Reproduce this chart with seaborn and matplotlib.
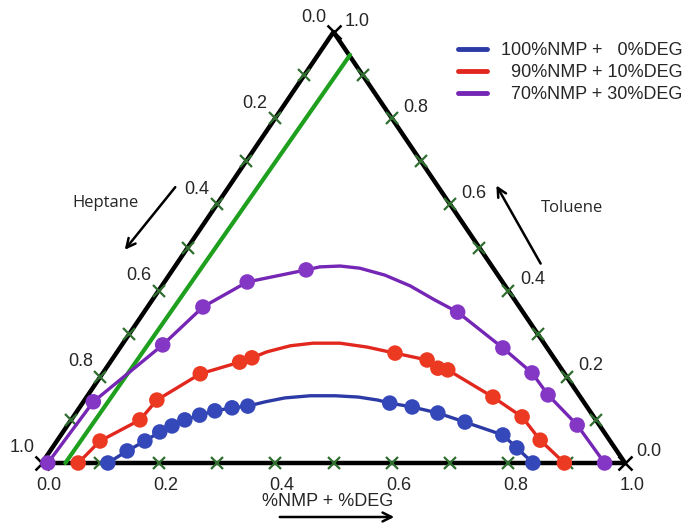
import pandas as pd
import seaborn as sns
import matplotlib.pyplot as plt

# Ternary data:
# solv = fraction of (NMP + DEG), tol = fraction of toluene, heptane = 1 - solv - tol
blue_solv = [0.113, 0.132, 0.151, 0.166, 0.180, 0.195, 0.215, 0.236, 0.262, 0.287,
             0.527, 0.570, 0.621, 0.678, 0.758, 0.797, 0.842]
blue_tol = [0.000, 0.028, 0.051, 0.072, 0.086, 0.100, 0.111, 0.121, 0.128, 0.132,
            0.139, 0.130, 0.116, 0.095, 0.065, 0.035, 0.000]
red_solv = [0.062, 0.074, 0.118, 0.124, 0.168, 0.222, 0.238,
            0.478, 0.541, 0.569, 0.588, 0.697, 0.770, 0.828, 0.896]
red_tol = [0.000, 0.051, 0.100, 0.146, 0.207, 0.234, 0.244,
           0.255, 0.239, 0.220, 0.216, 0.153, 0.107, 0.053, 0.000]
purple_solv = [0.010, 0.017, 0.070, 0.095, 0.142, 0.229,
               0.538, 0.657, 0.736, 0.789, 0.874, 0.965]
purple_tol = [0.000, 0.142, 0.274, 0.362, 0.420, 0.448,
              0.350, 0.267, 0.209, 0.158, 0.088, 0.000]

# fitted binodal curves across the top, where there are no measured points
blue_fit_solv = [0.312, 0.341, 0.382, 0.425, 0.466, 0.503]
blue_fit_tol = [0.142, 0.151, 0.156, 0.156, 0.153, 0.146]
red_fit_solv = [0.257, 0.290, 0.326, 0.372, 0.423, 0.458]
red_fit_tol = [0.258, 0.272, 0.278, 0.278, 0.269, 0.260]
purple_fit_solv = [0.249, 0.283, 0.319, 0.370, 0.426, 0.485]
purple_fit_tol = [0.455, 0.457, 0.452, 0.436, 0.411, 0.378]

# green line
green_solv = [0.040, 0.055]
green_tol = [0.000, 0.947]

labels = ['100%NMP +   0%DEG', '  90%NMP + 10%DEG', '  70%NMP + 30%DEG']
tick_vals = [0.0, 0.2, 0.4, 0.6, 0.8, 1.0]
minor_vals = [0.1, 0.2, 0.3, 0.4, 0.5, 0.6, 0.7, 0.8, 0.9]


def to_xy(solv, tol):
    # ternary -> plot coordinates (bottom-right = pure solvent, top = pure toluene)
    solv = pd.Series(solv, dtype=float)
    tol = pd.Series(tol, dtype=float)
    return pd.DataFrame({'x': solv + tol / 2, 'y': tol})


sns.set_style('white')
plt.rcParams['font.family'] = ['Liberation Sans', 'DejaVu Sans']

fig = plt.figure(figsize=(6.9, 5.24), dpi=100)
ax = fig.add_axes([42 / 690, 61 / 524, 583 / 690, 431 / 524])
ax.set_xlim(0, 1)
ax.set_ylim(0, 1)
ax.axis('off')

# triangle frame
frame = to_xy([0, 1, 0, 0], [0, 0, 1, 0])
ax.plot(frame['x'], frame['y'], color='black', lw=3.2, zorder=2, clip_on=False)

# green line
g = to_xy(green_solv, green_tol)
ax.plot(g['x'], g['y'], color='#1ea01e', lw=3, zorder=2, clip_on=False)

# tick marks along the three edges
bottom = to_xy(minor_vals, [0] * 9)
left = to_xy([0] * 9, [1 - v for v in minor_vals])
right = to_xy([1 - v for v in minor_vals], minor_vals)
for edge in (bottom, left, right):
    ax.plot(edge['x'], edge['y'], 'x', color='#2f6e2f', ms=9, mew=1.6, zorder=3, clip_on=False)
corners = to_xy([0, 1, 0], [0, 0, 1])
ax.plot(corners['x'], corners['y'], 'x', color='black', ms=10, mew=1.8, zorder=3, clip_on=False)

series = [
    (blue_solv, blue_tol, blue_fit_solv, blue_fit_tol, '#2c3aa6', '#3548ba'),
    (red_solv, red_tol, red_fit_solv, red_fit_tol, '#e2281e', '#ec3a22'),
    (purple_solv, purple_tol, purple_fit_solv, purple_fit_tol, '#7526b5', '#8436c4'),
]
for (s, t, fs, ft, lc, mc), lab in zip(series, labels):
    pts = to_xy(s, t)
    curve = to_xy(list(s) + fs, list(t) + ft)
    curve['s'] = list(s) + fs
    curve = curve.sort_values('s')
    sns.lineplot(data=curve, x='x', y='y', sort=False, estimator=None, color=lc,
                 lw=2.4, label=lab, ax=ax, zorder=4)
    sns.scatterplot(data=pts, x='x', y='y', color=mc, s=125, edgecolor='none',
                    legend=False, ax=ax, zorder=5, clip_on=False)

# tick labels
for v in tick_vals:
    ax.annotate(f'{v:.1f}', (v, 0), xytext=(7, -23), textcoords='offset pixels',
                ha='center', va='center', fontsize=13)
    p = to_xy([0], [1 - v])
    ax.annotate(f'{v:.1f}', (p['x'][0], p['y'][0]), xytext=(-20, 15), textcoords='offset pixels',
                ha='center', va='center', fontsize=13)
    p = to_xy([1 - v], [v])
    ax.annotate(f'{v:.1f}', (p['x'][0], p['y'][0]), xytext=(24, 11), textcoords='offset pixels',
                ha='center', va='center', fontsize=13)

# axis names with arrows
arrow = dict(arrowstyle='->', color='black', lw=1.8, mutation_scale=16)
ax.annotate('', xy=(123, 272), xytext=(177, 339), xycoords='figure pixels', arrowprops=arrow)
ax.annotate('', xy=(495, 341), xytext=(542, 258), xycoords='figure pixels', arrowprops=arrow)
ax.annotate('', xy=(397, 7), xytext=(277, 7), xycoords='figure pixels', arrowprops=arrow)
fig.text(105 / 690, 321 / 524, 'Heptane', ha='center', va='center', fontsize=12,
         family=['Open Sans', 'DejaVu Sans'])
fig.text(572 / 690, 316 / 524, 'Toluene', ha='center', va='center', fontsize=12,
         family=['Open Sans', 'DejaVu Sans'])
fig.text(328 / 690, 22 / 524, '%NMP + %DEG', ha='center', va='center', fontsize=13)

leg = ax.legend(loc='upper left', bbox_to_anchor=(449 / 690, 1 - 33 / 524),
                bbox_transform=fig.transFigure, frameon=False, fontsize=13,
                handlelength=1.6, handletextpad=0.8, labelspacing=0.28, borderpad=0)
for line in leg.get_lines():
    line.set_linewidth(3.5)

fig.savefig('out.png', dpi=100)
